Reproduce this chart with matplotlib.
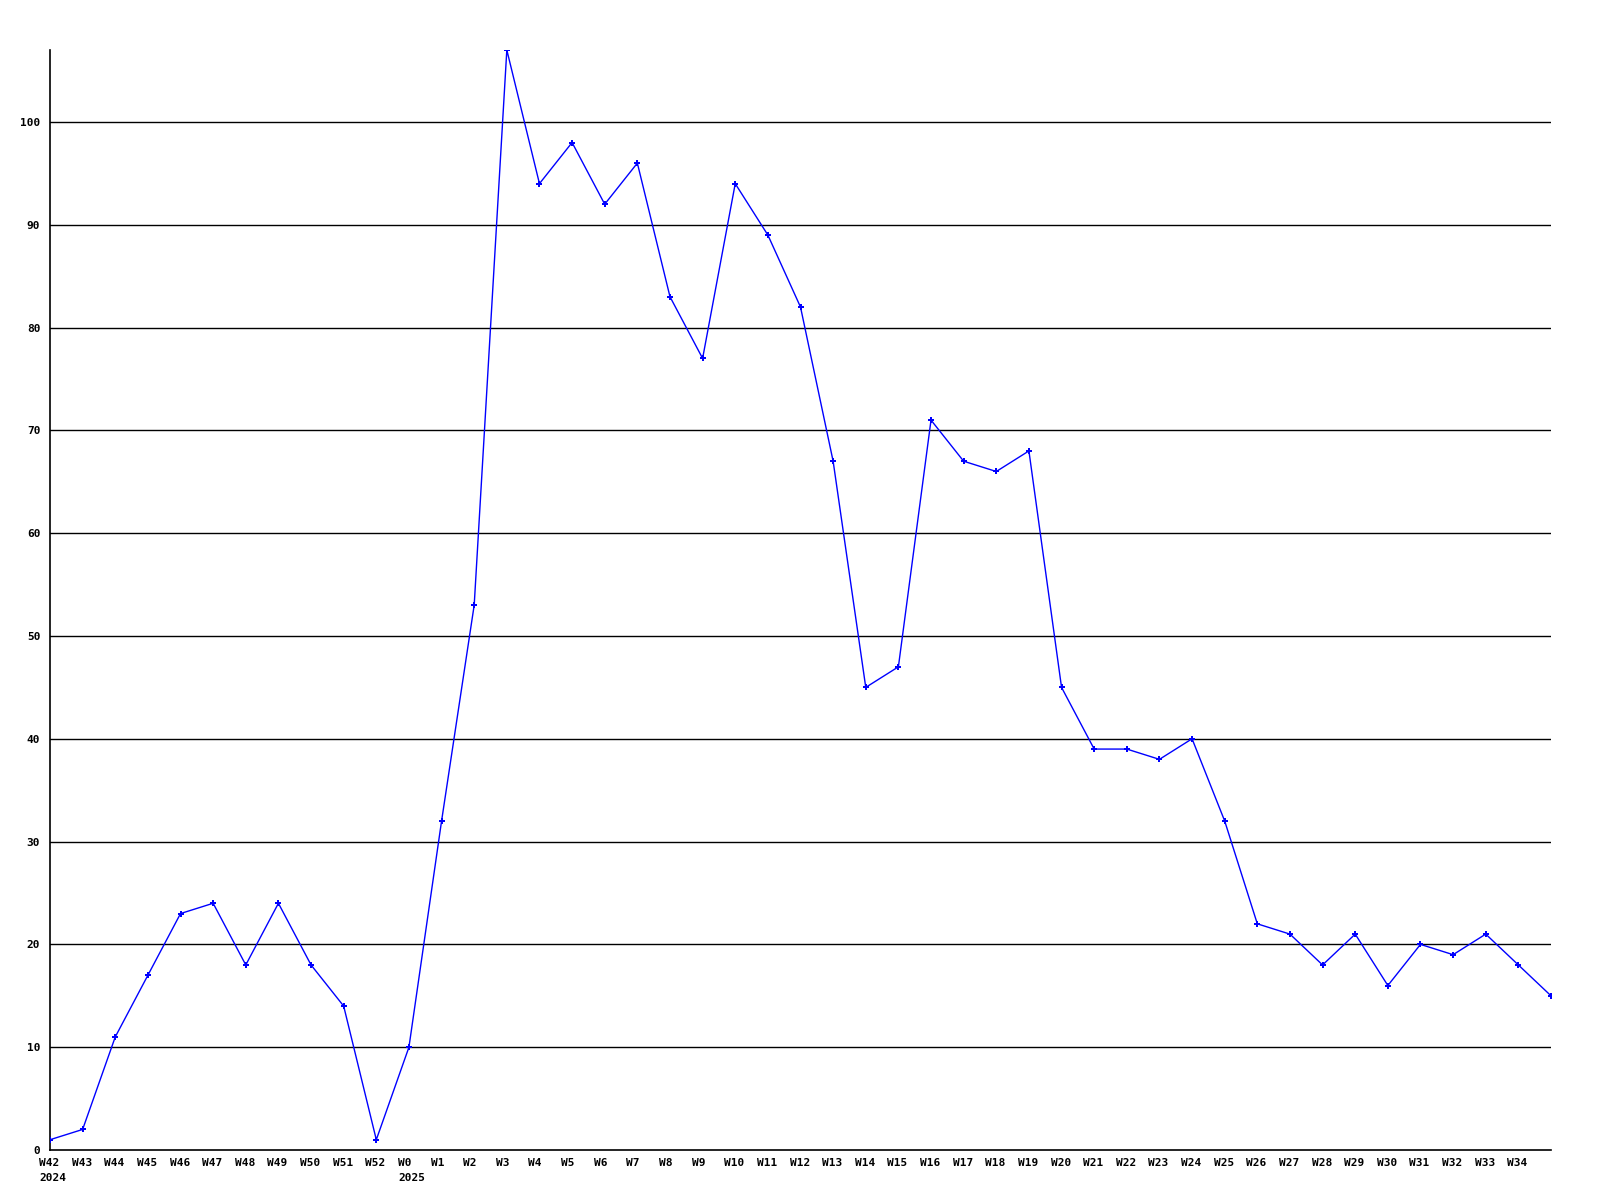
import numpy as np
import matplotlib
matplotlib.use('Agg')
import matplotlib.pyplot as plt
from matplotlib.transforms import offset_copy

weeks = ['W42', 'W43', 'W44', 'W45', 'W46', 'W47', 'W48', 'W49', 'W50', 'W51', 'W52',
         'W0', 'W1', 'W2', 'W3', 'W4', 'W5', 'W6', 'W7', 'W8', 'W9', 'W10', 'W11', 'W12',
         'W13', 'W14', 'W15', 'W16', 'W17', 'W18', 'W19', 'W20', 'W21', 'W22', 'W23',
         'W24', 'W25', 'W26', 'W27', 'W28', 'W29', 'W30', 'W31', 'W32', 'W33', 'W34']
years = {0: '2024', 11: '2025'}
values = [1, 2, 11, 17, 23, 24, 18, 24, 18, 14, 1,
          10, 32, 53, 107, 94, 98, 92, 96, 83, 77, 94, 89, 82,
          67, 45, 47, 71, 67, 66, 68, 45, 39, 39, 38,
          40, 32, 22, 21, 18, 21, 16, 20, 19, 21, 18, 15]
yticks = list(range(0, 101, 10))

fig = plt.figure(figsize=(16, 12), dpi=100)
ax = fig.add_axes([50/1600, 50/1200, 1501/1600, 1100/1200])

x = np.arange(len(values))
ax.set_xlim(0, len(values) - 1)
ax.set_ylim(0, 107)

for v in yticks[1:]:
    ax.axhline(v, color='black', lw=1.0, zorder=1)

ax.plot(x, values, color='#0000ff', lw=1, marker='P', markersize=4.5,
        markeredgewidth=0, zorder=3)

for s in ['top', 'right']:
    ax.spines[s].set_visible(False)
for s in ['left', 'bottom']:
    ax.spines[s].set_linewidth(1.2)

ax.set_xticks([])
ax.set_yticks(yticks)
ax.set_yticklabels([str(v) for v in yticks], fontfamily='DejaVu Sans Mono',
                   fontweight='bold', fontsize=8)
ax.tick_params(axis='y', length=0, pad=7)

tr = offset_copy(ax.get_xaxis_transform(), fig=fig, x=-11, y=-8, units='dots')
for i, w in enumerate(weeks):
    lbl = w
    if i in years:
        lbl = w + '\n' + years[i]
    ax.text(i, 0, lbl, transform=tr, ha='left', va='top', fontsize=8,
            fontweight='bold', fontfamily='DejaVu Sans Mono', linespacing=1.6)

fig.savefig('out.png', dpi=100)
